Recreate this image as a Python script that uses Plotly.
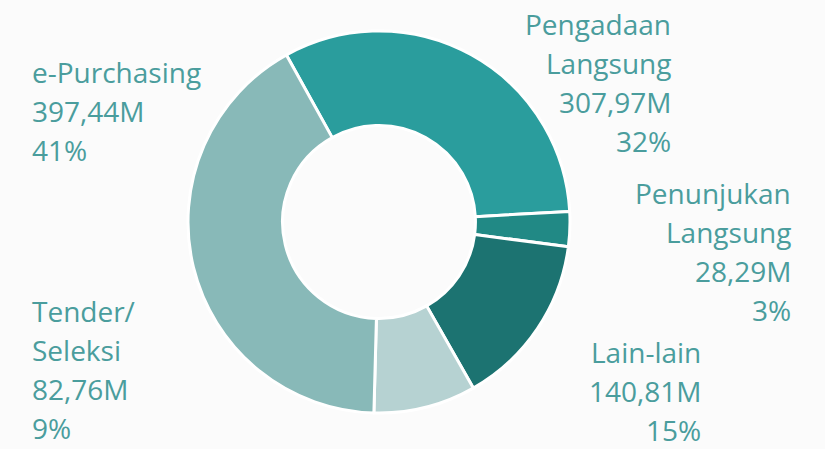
import plotly.graph_objects as go

categories = ["Pengadaan Langsung", "Penunjukan Langsung", "Lain-lain", "Tender/Seleksi", "e-Purchasing"]
values = [307.97, 28.29, 140.81, 82.76, 397.44]
value_labels = ["307,97M", "28,29M", "140,81M", "82,76M", "397,44M"]
pct_labels = ["32%", "3%", "15%", "9%", "41%"]
name_lines = [["Pengadaan", "Langsung"], ["Penunjukan", "Langsung"], ["Lain-lain"], ["Tender/", "Seleksi"], ["e-Purchasing"]]
colors = ["#2a9d9d", "#218985", "#1c7371", "#b6d2d2", "#88b9b8"]

W, H = 825, 449
cx, cy, r = 379, 222, 191

fig = go.Figure(go.Pie(
    labels=categories, values=values, sort=False, direction="clockwise",
    rotation=-29, hole=0.505, textinfo="none", hoverinfo="label+value+percent",
    marker=dict(colors=colors, line=dict(color="white", width=3)),
    domain=dict(x=[(cx - r) / W, (cx + r) / W], y=[(H - cy - r) / H, (H - cy + r) / H]),
    showlegend=False,
))

# label block layout: (anchor x px, first-line center y px, align)
blocks = [
    (672, 24, "right"),
    (792, 193, "right"),
    (702, 352, "right"),
    (31, 311, "left"),
    (31, 72, "left"),
]
step = 39
text_color = "#4a9d9d"
for i, (x, y0, al) in enumerate(blocks):
    lines = name_lines[i] + [value_labels[i], pct_labels[i]]
    for j, t in enumerate(lines):
        fig.add_annotation(
            x=x / W, y=1 - (y0 + j * step) / H, xref="paper", yref="paper",
            text=t, showarrow=False, xanchor=al, yanchor="middle",
            borderpad=0,
            font=dict(family="Open Sans", size=28, color=text_color),
        )

fig.update_layout(
    width=W, height=H, margin=dict(l=0, r=0, t=0, b=0),
    paper_bgcolor="#fbfbfb", plot_bgcolor="#fbfbfb",
)
fig.write_html("out.html", config={"displayModeBar": False},
               post_script="document.body.style.margin='0';document.body.style.background='#fbfbfb';")
